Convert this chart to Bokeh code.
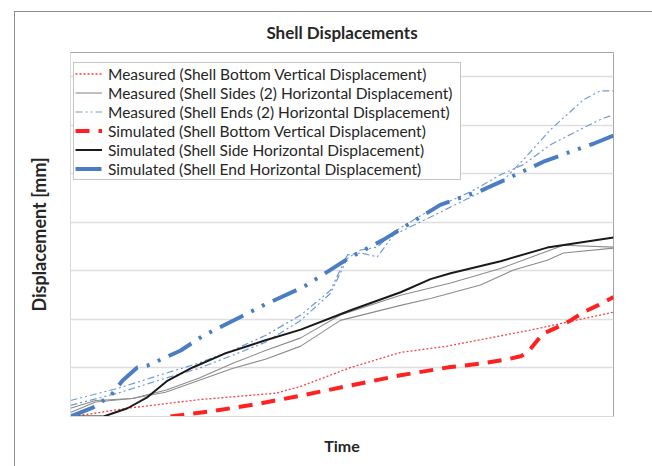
from bokeh.plotting import figure
from bokeh.models import FixedTicker, Legend, LegendItem, Range1d
from bokeh.embed import file_html
from bokeh.resources import INLINE

# ---- data (time in % of test duration, displacement in mm-units of the grid) ----
meas_bottom_t = [0, 2.8, 10.5, 23.9, 37.8, 42.4, 51.6, 60.8, 69.4, 84.7, 100]
meas_bottom_v = [0.02, 0.04, 0.17, 0.35, 0.48, 0.62, 1.01, 1.32, 1.45, 1.78, 2.15]

meas_sides_a_t = [0, 4.6, 11.4, 17.5, 23.6, 29.8, 35.9, 42.4, 49.7, 60.8, 70.0, 79.2, 90.8, 100]
meas_sides_a_v = [0.17, 0.33, 0.37, 0.54, 0.79, 1.09, 1.36, 1.62, 2.09, 2.50, 2.75, 3.05, 3.53, 3.49]

meas_sides_b_t = [0, 4.6, 11.4, 17.5, 23.6, 29.8, 35.9, 42.4, 49.7, 60.8, 66.3, 75.5, 81.6, 87.8, 90.8, 100]
meas_sides_b_v = [0.08, 0.30, 0.37, 0.50, 0.74, 0.99, 1.18, 1.45, 1.98, 2.29, 2.43, 2.71, 3.02, 3.22, 3.37, 3.47]

meas_ends_t = [0, 8.7, 17.5, 23.6, 29.8, 35.9, 42.4, 47.9, 51.0, 53.4, 56.5, 59.5, 66.3, 73.7, 79.2, 83.4, 88.4, 94.5, 97.6, 100]
meas_ends_a_v = [0.33, 0.58, 0.89, 1.10, 1.36, 1.67, 2.09, 2.60, 3.33, 3.37, 3.29, 3.74, 4.11, 4.52, 4.81, 5.29, 5.91, 6.53, 6.71, 6.71]
meas_ends_b_v = [0.23, 0.48, 0.79, 0.99, 1.26, 1.53, 1.98, 2.54, 3.26, 3.43, 3.49, 3.80, 4.26, 4.63, 4.98, 5.19, 5.60, 5.95, 6.12, 6.22]

sim_bottom_t = [18.4, 26.7, 35.0, 42.4, 51.6, 60.8, 70.0, 72.4, 75.5, 80.5, 82.9, 84.2, 86.0, 87.1, 89.7, 92.1, 94.5, 97.1, 100]
sim_bottom_v = [0, 0.12, 0.27, 0.43, 0.64, 0.85, 1.02, 1.05, 1.09, 1.18, 1.24, 1.32, 1.57, 1.71, 1.84, 1.98, 2.15, 2.29, 2.46]

sim_side_t = [0, 6.1, 10.5, 14.2, 17.9, 22.5, 28.5, 35.9, 42.4, 51.6, 60.8, 66.3, 70.0, 79.2, 87.8, 100]
sim_side_v = [0, 0, 0.17, 0.40, 0.74, 1.01, 1.30, 1.57, 1.79, 2.19, 2.56, 2.83, 2.95, 3.20, 3.48, 3.69]

sim_end_t = [0, 4.2, 7.4, 9.6, 12.3, 14.2, 20.3, 24.5, 31.3, 35.5, 42.9, 47.3, 51.2, 57.6, 62.1, 68.1, 75.5, 79.7, 87.1, 91.5, 96.3, 100]
sim_end_v = [0, 0.19, 0.43, 0.74, 1.01, 1.05, 1.36, 1.67, 2.05, 2.29, 2.67, 2.98, 3.26, 3.64, 3.95, 4.36, 4.65, 4.86, 5.25, 5.43, 5.62, 5.79]

grid_values = [1, 2, 3, 4, 5, 6, 7]

title_text = "Shell Displacements"
labels = [
    "Measured (Shell Bottom Vertical Displacement)",
    "Measured (Shell Sides (2) Horizontal Displacement)",
    "Measured (Shell Ends (2) Horizontal Displacement)",
    "Simulated (Shell Bottom Vertical Displacement)",
    "Simulated (Shell Side Horizontal Displacement)",
    "Simulated (Shell End Horizontal Displacement)",
]

FONT = "Lato"
TXT = "#262626"

p = figure(
    frame_width=543, frame_height=364,
    min_border_left=55, min_border_right=39, min_border_top=40, min_border_bottom=50,
    x_range=Range1d(0, 100), y_range=Range1d(0, 7.5),
    output_backend="svg", toolbar_location=None,
    title=title_text,
)
p.styles = {"border-left": "1px solid #8c8c8c", "border-top": "1px solid #8c8c8c",
            "margin-left": "14px", "margin-top": "11px"}

p.title.align = "center"
p.title.vertical_align = "top"
p.title.offset = 4
p.title.text_font = FONT
p.title.text_font_size = "17px"
p.title.text_font_style = "bold"
p.title.text_color = TXT
p.title.standoff = 15

for ax in (p.xaxis[0], p.yaxis[0]):
    ax.ticker = FixedTicker(ticks=[])
    ax.axis_line_color = "#d9d9d9"
    ax.axis_label_text_font = FONT
    ax.axis_label_text_font_style = "bold"
    ax.axis_label_text_color = TXT
    ax.major_tick_line_color = None
    ax.minor_tick_line_color = None
p.xaxis.axis_label = "Time"
p.yaxis.axis_label = "Displacement [mm]"
p.xaxis.axis_label_text_font_size = "16px"
p.yaxis.axis_label_text_font_size = "18px"
p.xaxis.axis_label_standoff = 19
p.yaxis.axis_label_standoff = 21

p.xgrid.visible = False
p.ygrid.ticker = FixedTicker(ticks=grid_values)
p.ygrid.grid_line_color = "#dedede"
p.ygrid.grid_line_width = 1.5
p.outline_line_color = "#a6a6a6"

r1 = p.line(meas_bottom_t, meas_bottom_v, line_color="#f04646", line_width=1.3, line_dash="2 2")
r2a = p.line(meas_sides_a_t, meas_sides_a_v, line_color="#8c8c8c", line_width=1.1)
r2b = p.line(meas_sides_b_t, meas_sides_b_v, line_color="#8c8c8c", line_width=1.1)
r3a = p.line(meas_ends_t, meas_ends_a_v, line_color="#6e9ad4", line_width=1.2, line_dash="7 3 2 3 2 3")
r3b = p.line(meas_ends_t, meas_ends_b_v, line_color="#6e9ad4", line_width=1.2, line_dash="7 3 2 3 2 3")
r4 = p.line(sim_bottom_t, sim_bottom_v, line_color="#ff2020", line_width=4, line_dash="14 9")
r5 = p.line(sim_side_t, sim_side_v, line_color="#1a1a1a", line_width=2)
r6 = p.line(sim_end_t, sim_end_v, line_color="#4a7dc4", line_width=4, line_dash="26 9 3 9 3 9")

items = [LegendItem(label=lab, renderers=[r]) for lab, r in zip(labels, [r1, r2a, r3a, r4, r5, r6])]
legend = Legend(items=items, location=(3, 236))
legend.label_text_font = FONT
legend.label_text_font_size = "15.5px"
legend.label_text_color = TXT
legend.label_height = 19
legend.glyph_height = 19
legend.glyph_width = 27
legend.label_standoff = 6
legend.spacing = 0
legend.padding = 1
legend.margin = 0
legend.label_width = 351
legend.border_line_color = "#8c8c8c"
legend.background_fill_alpha = 1
p.add_layout(legend, "center")

open("out.html", "w").write(file_html(p, INLINE))
